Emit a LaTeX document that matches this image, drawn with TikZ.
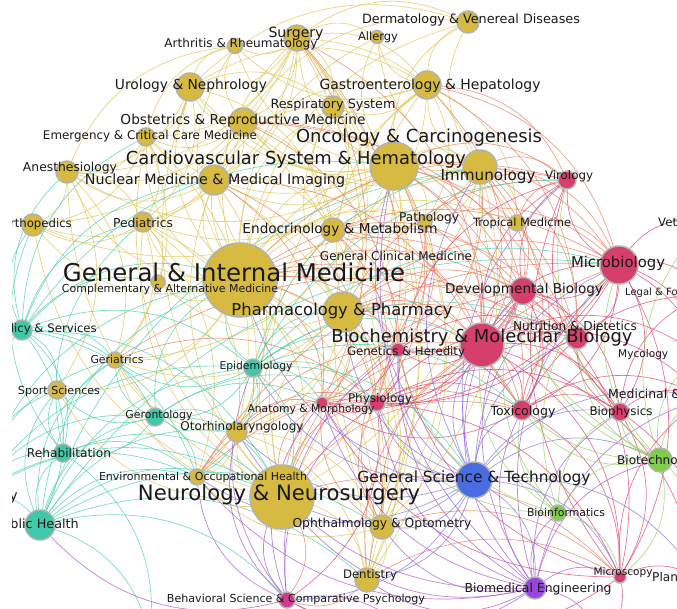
\documentclass[tikz,border=0pt]{standalone}
\usepackage{fontspec}
\setmainfont{DejaVu Sans}
\usetikzlibrary{backgrounds}

\definecolor{goldN}{RGB}{214,186,66}
\definecolor{pinkN}{RGB}{214,62,108}
\definecolor{tealN}{RGB}{64,200,168}
\definecolor{blueN}{RGB}{74,108,226}
\definecolor{greenN}{RGB}{128,206,72}
\definecolor{purpN}{RGB}{150,70,220}
\definecolor{magN}{RGB}{205,60,140}
\definecolor{goldE}{RGB}{222,198,90}
\definecolor{salmE}{RGB}{232,128,100}
\definecolor{pinkE}{RGB}{222,72,110}
\definecolor{tealE}{RGB}{80,208,176}
\definecolor{blueE}{RGB}{130,120,225}
\definecolor{purpE}{RGB}{165,90,215}
\definecolor{grnE}{RGB}{150,208,100}

% label scaled to the width it has in the map
\newcommand{\lblw}[2]{\resizebox{#1pt}{!}{#2}}

\begin{document}
\begin{tikzpicture}[
  x=1pt, y=-1pt,
  vtx/.style={circle, draw=gray!60, line width=1.5pt, inner sep=0pt},
  link/.style={line width=0.7pt, draw opacity=0.75},
  lab/.style={inner sep=0pt, text=black!90}
]
\useasboundingbox (0,0) rectangle (677,609);
\begin{scope}
\clip (12,0) rectangle (677,609);

% subject categories
\foreach \n/\x/\y/\d/\col in {
  surg/297/38/26/goldN, arth/235/46/15/goldN, allg/377/37/13/goldN,
  derm/468/22/22/goldN, urol/190/87/28/goldN, gast/427/85/28/goldN,
  resp/333/107/22/goldN, obst/243/122/28/goldN, emer/146/137/18/goldN,
  card/394/166/48/goldN, nucl/214/180/30/goldN, anes/67/172/22/goldN,
  immu/480/167/34/goldN, viro/567/180/18/pinkN, orth/33/225/22/goldN,
  pedi/143/222/20/goldN, endo/333/230/24/goldN, path/425/222/14/goldN,
  trop/517/223/16/goldN, gim/240/280/74/goldN, comp/158/282/14/goldN,
  micr/619/265/38/pinkN, devb/523/291/27/pinkN, phar/343/312/40/goldN,
  nutr/577/338/22/pinkN, bioc/482/345/44/pinkN, gene/398/350/14/pinkN,
  hpol/22/330/20/tealN, geri/115/360/16/goldN, epid/253/368/18/tealN,
  sprt/57/390/18/goldN, phys/377/403/16/pinkN, anat/322/403/12/pinkN,
  gero/155/417/18/tealN, otor/237/432/20/goldN, toxi/522/410/20/pinkN,
  biop/620/412/18/pinkN, reha/63/453/18/tealN, biot/660/460/24/greenN,
  envi/197/477/16/goldN, gsci/474/480/36/blueN, neur/282/497/64/goldN,
  publ/40/525/30/tealN, binf/558/513/16/greenN, opht/382/527/24/goldN,
  dent/367/580/24/goldN, behv/287/600/16/magN, bmed/535/588/22/purpN,
  mscp/620/577/12/pinkN}
  \node[vtx, fill=\col, minimum size=\d] (\n) at (\x,\y) {};

% categories outside the frame
\coordinate (vet) at (705,222);
\coordinate (leg) at (705,295);
\coordinate (myco) at (700,356);
\coordinate (medc) at (705,398);
\coordinate (plnt) at (700,580);
\coordinate (psyc) at (-25,497);
\coordinate (bot1) at (150,640);
\coordinate (bot2) at (420,645);
\coordinate (bot3) at (600,640);

\begin{pgfonlayer}{background}
\clip (12,0) rectangle (677,609);
\foreach \col/\s/\ts in {
  goldE/gim/{surg,arth,urol,gast,resp,obst,emer,card,nucl,anes,immu,orth,pedi,endo,path,trop,comp,phar,geri,sprt,otor,envi,neur,opht,dent,allg,derm},
  goldE/card/{surg,arth,allg,derm,urol,gast,resp,obst,emer,nucl,anes,immu,endo,path,phar,neur,pedi,orth,trop,opht,dent,otor,geri},
  goldE/surg/{arth,urol,gast,resp,obst,emer,nucl,anes,orth,pedi,neur,opht,dent,allg,derm,endo,phar,immu},
  goldE/immu/{allg,derm,gast,resp,trop,path,phar,endo,neur,opht,urol,obst},
  goldE/neur/{otor,envi,opht,dent,geri,sprt,phar,pedi,anes,orth,emer,endo,gast,urol,nucl},
  goldE/phar/{endo,gast,resp,nucl,comp,opht,dent,path,geri,otor},
  goldE/obst/{urol,pedi,endo,emer,nucl,anes,dent,arth,derm},
  goldE/nucl/{urol,emer,anes,orth,resp,endo,otor,gast,opht},
  goldE/urol/{arth,gast,resp,emer,anes,pedi,endo,derm},
  goldE/gast/{derm,allg,path,endo,resp,trop,arth},
  goldE/emer/{anes,orth,pedi,geri,otor,arth},
  goldE/anes/{orth,pedi,sprt,geri,arth},
  goldE/pedi/{orth,comp,geri,otor,dent,envi},
  goldE/endo/{path,resp,comp,opht},
  goldE/otor/{opht,dent,envi,geri},
  goldE/opht/{dent,envi,gast},
  salmE/gim/{bioc,micr,devb,nutr,gene,phys,anat,toxi,viro,biop},
  salmE/card/{bioc,gene,devb,micr,nutr,viro,phys,toxi},
  salmE/phar/{bioc,gene,phys,devb,nutr,toxi,micr,anat,biop,viro},
  salmE/immu/{micr,viro,bioc,devb,nutr,gene,toxi},
  salmE/endo/{bioc,gene,devb,nutr,phys,toxi},
  salmE/neur/{phys,anat,bioc,behv,toxi,gene,devb,mscp},
  salmE/path/{bioc,micr,gene,viro,anat},
  salmE/trop/{micr,viro,bioc,toxi},
  salmE/gast/{micr,nutr,bioc,viro},
  salmE/obst/{gene,devb,nutr},
  salmE/otor/{anat,phys},
  salmE/dent/{behv,mscp,bioc,micr},
  salmE/opht/{phys,mscp,anat,bioc,gene},
  salmE/surg/{anat,phys,bioc},
  salmE/nucl/{phys,anat,bioc},
  salmE/envi/{toxi,phys,micr,bioc},
  salmE/geri/{nutr,phys},
  pinkE/bioc/{micr,devb,nutr,gene,phys,anat,toxi,biop,mscp,viro,myco,medc,plnt},
  pinkE/micr/{viro,devb,biop,toxi,nutr,mscp,vet,leg,myco,gene,phys,anat,medc},
  pinkE/devb/{gene,anat,phys,nutr,toxi,mscp,biop,viro},
  pinkE/phys/{anat,toxi,nutr,biop,behv,mscp},
  pinkE/gene/{anat,phys,toxi,viro,nutr},
  pinkE/toxi/{biop,nutr,leg,medc,mscp,anat},
  pinkE/biop/{mscp,medc,plnt,nutr,viro,leg},
  pinkE/mscp/{anat,behv,plnt,medc,bot3,gene,viro},
  tealE/hpol/{publ,geri,epid,sprt,reha,gero,gim,neur,envi,pedi,emer,orth,nucl,comp,card,anes},
  tealE/publ/{epid,reha,envi,gero,sprt,geri,neur,opht,behv,dent,gim,otor,bot1,micr,immu},
  tealE/epid/{gero,envi,geri,gsci,phys,otor,bioc,immu,micr,anat,gim,phar,neur,toxi,gene,viro,nutr},
  tealE/gero/{geri,reha,otor,sprt,envi,neur,gim,anat,phys},
  tealE/reha/{sprt,geri,neur,orth,pedi,envi,bot1},
  tealE/psyc/{neur,publ,reha,gim,hpol,epid,geri,gero,envi,sprt},
  blueE/gsci/{binf,bmed,mscp,biot,opht,dent,neur,anat,toxi,biop,devb,nutr,envi,otor,phys,gene,bioc,micr,phar,immu,behv,card,gim,plnt,medc,viro,epid},
  purpE/bmed/{neur,opht,dent,mscp,binf,phys,anat,biot,behv,toxi,biop,bioc,gene,devb,envi,otor,bot3,micr,card,medc},
  purpE/behv/{neur,anat,phys,publ,envi,epid,bot2,gene,otor},
  grnE/binf/{gene,biot,micr,devb,bioc,toxi,mscp,phys,biop},
  grnE/biot/{micr,nutr,toxi,biop,bioc,devb,mscp,immu,plnt,myco,vet,medc,viro}}
  \foreach \t in \ts
    \draw[link, draw=\col] (\s) to[bend left=30] (\t);
\end{pgfonlayer}

% labels
\foreach \n/\x/\y/\w/\t in {
  surg/296/34/55/Surgery, arth/241/44/153/Arthritis \& Rheumatology,
  allg/378/37/40/Allergy, derm/471/20/218/Dermatology \& Venereal Diseases,
  urol/191/86/152/Urology \& Nephrology, gast/430/86/221/Gastroenterology \& Hepatology,
  resp/333/105/125/Respiratory System, obst/243/121/245/Obstetrics \& Reproductive Medicine,
  emer/150/136/214/Emergency \& Critical Care Medicine, onco/419/138/246/Oncology \& Carcinogenesis,
  card/296/160/340/Cardiovascular System \& Hematology, anes/70/168/94/Anesthesiology,
  nucl/215/181/260/Nuclear Medicine \& Medical Imaging, immu/488/176/95/Immunology,
  viro/569/176/48/Virology, pedi/143/223/60/Pediatrics,
  endo/340/230/195/Endocrinology \& Metabolism, path/429/218/60/Pathology,
  trop/522/223/98/Tropical Medicine, gcli/396/256/152/General Clinical Medicine,
  gim/234/272/342/General \& Internal Medicine, comp/170/289/216/Complementary \& Alternative Medicine,
  micr/618/263/94/Microbiology, devb/524/290/158/Developmental Biology,
  phar/342/311/221/Pharmacology \& Pharmacy, nutr/575/326/124/Nutrition \& Dietetics,
  bioc/482/338/301/Biochemistry \& Molecular Biology, gene/406/352/118/Genetics \& Heredity,
  geri/117/359/53/Geriatrics, epid/256/367/73/Epidemiology,
  sprt/59/391/82/Sport Sciences, phys/380/399/64/Physiology,
  anat/311/410/127/Anatomy \& Morphology, gero/159/415/67/Gerontology,
  otor/242/427/123/Otorhinolaryngology, toxi/523/412/65/Toxicology,
  biop/621/412/63/Biophysics, reha/69/453/84/Rehabilitation,
  envi/203/477/208/Environmental \& Occupational Health, gsci/474/478/233/General Science \& Technology,
  neur/279/495/282/Neurology \& Neurosurgery, binf/566/512/78/Bioinformatics,
  opht/382/524/179/Ophthalmology \& Optometry, dent/370/575/54/Dentistry,
  behv/296/599/258/Behavioral Science \& Comparative Psychology,
  bmed/538/589/147/Biomedical Engineering, mscp/623/573/59/Microscopy}
  \node[lab] (\n-lab) at (\x,\y) {\lblw{\w}{\t}};

% labels cut by the frame
\node[lab, anchor=east] (orth-lab) at (72,224) {\lblw{71}{Orthopedics}};
\node[lab, anchor=east] (hpol-lab) at (97,329) {\lblw{142}{Health Policy \& Services}};
\node[lab, anchor=east] (publ-lab) at (79,524) {\lblw{84}{Public Health}};
\node[lab, anchor=east] (psyc-lab) at (18,497) {\lblw{73}{Psychiatry}};
\node[lab, anchor=west] (vet-lab) at (658,223) {\lblw{116}{Veterinary Sciences}};
\node[lab, anchor=west] (leg-lab) at (625,293) {\lblw{130}{Legal \& Forensic Medicine}};
\node[lab, anchor=west] (myco-lab) at (618,355) {\lblw{50}{Mycology}};
\node[lab, anchor=west] (medc-lab) at (608,395) {\lblw{226}{Medicinal \& Biomolecular Chemistry}};
\node[lab, anchor=west] (biot-lab) at (617,461) {\lblw{86}{Biotechnology}};
\node[lab, anchor=west] (plnt-lab) at (652,577) {\lblw{88}{Plant Sciences}};
\end{scope}
\end{tikzpicture}
\end{document}
